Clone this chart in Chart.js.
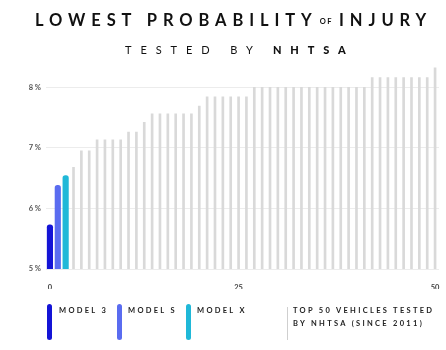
<!DOCTYPE html>
<html>
<head>
<meta charset="utf-8">
<script src="https://cdn.jsdelivr.net/npm/chart.js@4"></script>
<style>
  html,body{margin:0;padding:0;background:#fff;}
  body{width:446px;height:350px;position:relative;overflow:hidden;font-family:Lato,"Open Sans",sans-serif;color:#111;}
  #c{position:absolute;left:0;top:0;}
  .t{position:absolute;white-space:nowrap;}
  #title{top:10px;left:35px;font-size:16.5px;font-weight:700;letter-spacing:5.9px;}
  #title small{font-size:7.5px;letter-spacing:1.5px;font-weight:700;vertical-align:2px;margin:0 6px 0 2px;}
  #sub{top:43px;left:125px;font-size:11px;font-weight:400;letter-spacing:8.9px;}
  #sub b{font-weight:900;}
  .lg{position:absolute;font-size:7.5px;font-weight:700;letter-spacing:2.3px;color:#222;line-height:13px;}
  .sw{position:absolute;width:5px;border-radius:3px;top:304px;height:36px;}
</style>
</head>
<body>
<canvas id="c" width="446" height="350"></canvas>
<div class="t" id="title">LOWEST PROBABILITY<small>OF</small>INJURY</div>
<div class="t" id="sub">TESTED BY <b>NHTSA</b></div>
<div class="sw" style="left:47px;background:#1414d6"></div>
<div class="lg" style="left:59px;top:304px">MODEL 3</div>
<div class="sw" style="left:117px;background:#5a6cf0"></div>
<div class="lg" style="left:128px;top:304px">MODEL S</div>
<div class="sw" style="left:186px;background:#20b8d8"></div>
<div class="lg" style="left:197px;top:304px">MODEL X</div>
<div style="position:absolute;left:287px;top:307px;width:1px;height:33px;background:#cfcfcf"></div>
<div class="lg" style="left:293px;top:304px">TOP 50 VEHICLES TESTED<br>BY NHTSA (SINCE 2011)</div>
<script>
const labels = ["0","","","","","","","","","","","","","","","","","","","","","","","","25",
  "","","","","","","","","","","","","","","","","","","","","","","","","50"];
const teslaValues = [5.73, 6.38, 6.54];
const teslaColors = ["#1414d6", "#5a6cf0", "#20b8d8"];
const otherValues = [6.68, 6.95, 6.95, 7.13, 7.13, 7.13, 7.13, 7.26, 7.26, 7.42,
  7.56, 7.56, 7.56, 7.56, 7.56, 7.56, 7.69, 7.84, 7.84, 7.84, 7.84, 7.84, 7.84,
  8.0, 8.0, 8.0, 8.0, 8.0, 8.0, 8.0, 8.0, 8.0, 8.0, 8.0, 8.0, 8.0, 8.0, 8.0,
  8.16, 8.16, 8.16, 8.16, 8.16, 8.16, 8.16, 8.16, 8.32];
const yTicks = [5, 6, 7, 8];

const teslaData = labels.map((_, i) => i < teslaValues.length ? teslaValues[i] : null);
const otherData = labels.map((_, i) => i >= teslaValues.length ? otherValues[i - teslaValues.length] : null);

new Chart(document.getElementById('c'), {
  type: 'bar',
  data: {
    labels: labels,
    datasets: [
      { data: teslaData, backgroundColor: teslaColors, barThickness: 5.5,
        borderRadius: 3, borderSkipped: false },
      { data: otherData, backgroundColor: '#d9d9d9', barThickness: 2,
        borderRadius: 0 }
    ]
  },
  options: {
    responsive: false,
    animation: false,
    events: [],
    grouped: false,
    layout: { padding: { top: 63, right: 7, bottom: 61, left: 0 } },
    plugins: { legend: { display: false }, tooltip: { enabled: false } },
    scales: {
      x: {
        offset: true,
        grid: { display: false },
        border: { display: false },
        ticks: { autoSkip: false, maxRotation: 0, padding: 6, color: '#444',
          font: { family: 'Lato', size: 7.5, weight: '700' },
          callback: function(v, i) { return labels[i]; } },
        afterFit: s => { s.height = 20; }
      },
      y: {
        min: 5, max: 8.4,
        afterBuildTicks: s => { s.ticks = yTicks.map(v => ({ value: v })); },
        grid: { color: '#ececec', lineWidth: 1, drawTicks: false },
        border: { display: false },
        ticks: { padding: 5, color: '#555',
          font: { family: 'Lato', size: 7.5, weight: '700' },
          callback: v => v + ' %' },
        afterFit: s => { s.width = 46; }
      }
    }
  }
});
</script>
</body>
</html>
